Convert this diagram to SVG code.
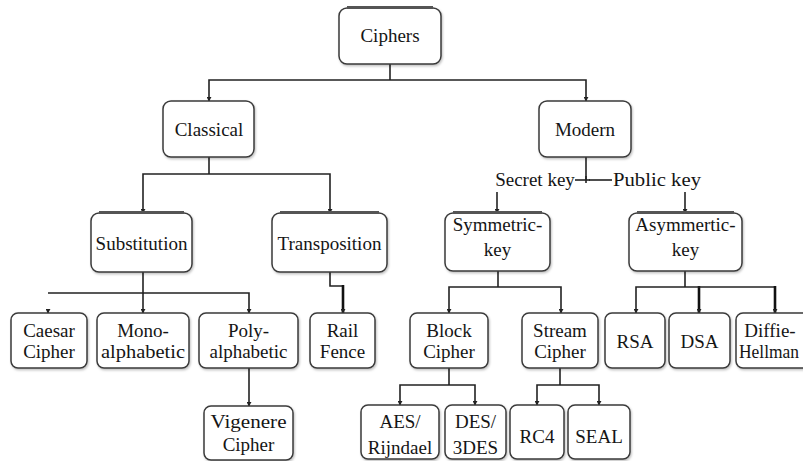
<svg xmlns="http://www.w3.org/2000/svg" width="803" height="461" viewBox="0 0 803 461">
<defs>
<marker id="ah" viewBox="0 0 6 6" refX="5" refY="3" markerWidth="5" markerHeight="5" orient="auto" markerUnits="userSpaceOnUse">
<path d="M0,0 L6,3 L0,6 z" fill="#222"/>
</marker>
<filter id="sh" x="-10%" y="-10%" width="120%" height="130%">
<feDropShadow dx="1" dy="1.5" stdDeviation="1.2" flood-color="#000" flood-opacity="0.25"/>
</filter>
</defs>
<style>
.box{fill:#fff;stroke:#3a3a3a;stroke-width:1.5;filter:url(#sh)}
.top{stroke:#555;stroke-width:3;fill:none}
.t{font-size:19px;fill:#151515;text-anchor:middle}
.c{fill:none;stroke:#222;stroke-width:1.6}
.ca{fill:none;stroke:#222;stroke-width:1.6;marker-end:url(#ah)}
.ck{fill:none;stroke:#111;stroke-width:2.6;marker-end:url(#ah)}
</style>
<rect width="803" height="461" fill="#fff"/>

<g id="connectors">
<path class="c" d="M390 64 V80"/>
<path class="ca" d="M390 80 H209 V101"/>
<path class="ca" d="M390 80 H586 V101"/>
<path class="c" d="M209 157 V174"/>
<path class="ca" d="M209 174 H143 V213"/>
<path class="ca" d="M209 174 H330 V213"/>
<path class="c" d="M143 272 V293 H48"/>
<path class="ca" d="M143 293 V313"/>
<path class="ca" d="M143 293 H249 V313"/>
<path class="ca" d="M48 309 V313"/>
<path class="c" d="M330 272 V286 H343"/>
<path class="ck" d="M343 285 V313"/>
<path class="ca" d="M249 368 V406"/>
<path class="c" d="M586 157 V180"/>
<path class="c" d="M575 180 H590"/>
<path class="c" d="M586 176 V183" stroke-width="1"/>
<path class="c" d="M589 180 H612" stroke-width="2.6"/>
<path class="ca" d="M497 192 V213"/>
<path class="ca" d="M685 192 V213"/>
<path class="c" d="M498 271 V287"/>
<path class="ca" d="M498 287 H449 V313"/>
<path class="ca" d="M498 287 H561 V313"/>
<path class="c" d="M685 271 V287"/>
<path class="ca" d="M685 287 H636 V313"/>
<path class="ck" d="M699 286 V313"/>
<path class="c" d="M685 287 H775" stroke-width="2"/>
<path class="ck" d="M775 286 V313"/>
<path class="c" d="M449 368 V385"/>
<path class="ca" d="M449 385 H400 V405"/>
<path class="ca" d="M449 385 H475 V405"/>
<path class="c" d="M560 368 V385"/>
<path class="ca" d="M560 385 H537 V405"/>
<path class="ca" d="M560 385 H599 V405"/>
</g>

<g id="nodes" font-family="'Liberation Serif', 'Times New Roman', 'DejaVu Serif', serif">
<g id="n-ciphers">
<rect class="box" x="339" y="8" width="102" height="56" rx="8"/>
<path class="top" d="M347 7.5 H433"/>
<text class="t" x="390" y="42">Ciphers</text>
</g>
<g id="n-classical">
<rect class="box" x="163" y="101" width="91" height="56" rx="8"/>
<text class="t" x="209" y="136">Classical</text>
</g>
<g id="n-modern">
<rect class="box" x="539" y="101" width="92" height="56" rx="8"/>
<text class="t" x="585" y="136">Modern</text>
</g>
<g id="n-secretkey">
<text class="t" x="535" y="186">Secret key</text>
</g>
<g id="n-publickey">
<text class="t" x="657" y="186" textLength="88" lengthAdjust="spacingAndGlyphs">Public key</text>
</g>
<g id="n-substitution">
<rect class="box" x="91" y="213" width="101" height="59" rx="8"/>
<path class="top" d="M99 212.5 H184"/>
<text class="t" x="141.5" y="250">Substitution</text>
</g>
<g id="n-transposition">
<rect class="box" x="272" y="213" width="115" height="59" rx="8"/>
<path class="top" d="M280 212.5 H379"/>
<text class="t" x="329.5" y="250">Transposition</text>
</g>
<g id="n-symmetric">
<rect class="box" x="445" y="213" width="105" height="58" rx="8"/>
<path class="top" d="M453 212.5 H542"/>
<text class="t" x="497.5" y="231">Symmetric-</text>
<text class="t" x="497.5" y="256">key</text>
</g>
<g id="n-asymmetric">
<rect class="box" x="629" y="213" width="113" height="58" rx="8"/>
<path class="top" d="M637 212.5 H734"/>
<text class="t" x="685.5" y="231">Asymmertic-</text>
<text class="t" x="685.5" y="256">key</text>
</g>
<g id="n-caesar">
<rect class="box" x="11" y="313" width="76" height="55" rx="7"/>
<text class="t" x="49" y="337">Caesar</text>
<text class="t" x="49" y="358">Cipher</text>
</g>
<g id="n-mono">
<rect class="box" x="97" y="313" width="92" height="55" rx="7"/>
<text class="t" x="143" y="337">Mono-</text>
<text class="t" x="143" y="358" textLength="84" lengthAdjust="spacingAndGlyphs">alphabetic</text>
</g>
<g id="n-poly">
<rect class="box" x="199" y="313" width="99" height="55" rx="7"/>
<text class="t" x="248.5" y="337">Poly-</text>
<text class="t" x="248.5" y="358">alphabetic</text>
</g>
<g id="n-rail">
<rect class="box" x="310" y="313" width="65" height="55" rx="7"/>
<text class="t" x="342.5" y="337">Rail</text>
<text class="t" x="342.5" y="358">Fence</text>
</g>
<g id="n-block">
<rect class="box" x="410" y="313" width="78" height="55" rx="7"/>
<text class="t" x="449" y="337">Block</text>
<text class="t" x="449" y="358">Cipher</text>
</g>
<g id="n-stream">
<rect class="box" x="522" y="313" width="76" height="55" rx="7"/>
<text class="t" x="560" y="337">Stream</text>
<text class="t" x="560" y="358">Cipher</text>
</g>
<g id="n-rsa">
<rect class="box" x="605" y="313" width="60" height="55" rx="7"/>
<text class="t" x="635" y="348">RSA</text>
</g>
<g id="n-dsa">
<rect class="box" x="669" y="313" width="61" height="55" rx="7"/>
<text class="t" x="699.5" y="348">DSA</text>
</g>
<g id="n-diffie">
<rect class="box" x="736" y="313" width="84" height="55" rx="7"/>
<text class="t" x="770" y="337">Diffie-</text>
<text class="t" x="769" y="358" font-size="18" textLength="60" lengthAdjust="spacingAndGlyphs">Hellman</text>
</g>
<g id="n-vigenere">
<rect class="box" x="204" y="406" width="89" height="54" rx="7"/>
<text class="t" x="248.5" y="428" textLength="76" lengthAdjust="spacingAndGlyphs">Vigenere</text>
<text class="t" x="248.5" y="451">Cipher</text>
</g>
<g id="n-aes">
<rect class="box" x="361" y="405" width="78" height="54" rx="7"/>
<text class="t" x="400" y="428">AES/</text>
<text class="t" x="400" y="454">Rijndael</text>
</g>
<g id="n-des">
<rect class="box" x="445" y="405" width="61" height="54" rx="7"/>
<text class="t" x="475.5" y="428">DES/</text>
<text class="t" x="475.5" y="454">3DES</text>
</g>
<g id="n-rc4">
<rect class="box" x="510" y="405" width="54" height="54" rx="7"/>
<text class="t" x="537" y="443">RC4</text>
</g>
<g id="n-seal">
<rect class="box" x="568" y="405" width="62" height="54" rx="7"/>
<text class="t" x="599" y="443">SEAL</text>
</g>
</g>
</svg>
